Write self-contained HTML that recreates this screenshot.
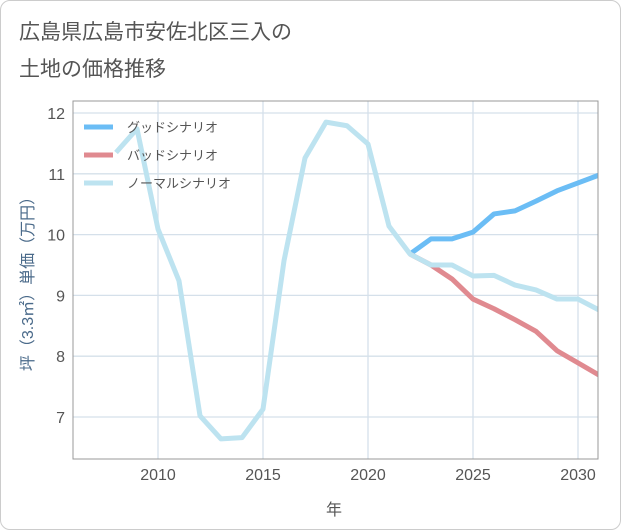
<!DOCTYPE html>
<html><head><meta charset="utf-8"><style>
body{margin:0;background:#fff;}
#card{position:absolute;left:0;top:0;width:619px;height:528px;border:1px solid #ccc;border-radius:10px;background:#fff;overflow:hidden}
.t{font-family:"Liberation Sans","Noto Sans CJK JP",sans-serif;}
</style></head><body>
<div id="card">
<svg width="621" height="530" xmlns="http://www.w3.org/2000/svg">
<text class="t" x="18" y="38" font-size="21" fill="#555">広島県広島市安佐北区三入の</text>
<text class="t" x="18" y="75" font-size="21" fill="#555">土地の価格推移</text>
<g id="grid"></g>
<defs><clipPath id="clip"><rect x="72" y="100" width="525" height="358"/></clipPath></defs>
<g id="lines" clip-path="url(#clip)"></g>
<rect x="72" y="100" width="525" height="358" fill="none" stroke="#999" stroke-width="1"/>
<g id="ticks"></g>
<text class="t" x="333" y="514" font-size="16" fill="#555" text-anchor="middle">年</text>
<text class="t" transform="translate(32,279) rotate(-90)" font-size="16" fill="#4a6a8a" text-anchor="middle">坪（3.3㎡）単価（万円）</text>
<g id="legend"></g>
</svg></div>
<script>
const years=[2008,2009,2010,2011,2012,2013,2014,2015,2016,2017,2018,2019,2020,2021,2022,2023,2024,2025,2026,2027,2028,2029,2030,2031];
const normal=[11.35,11.74,10.09,9.24,7.02,6.64,6.66,7.13,9.57,11.26,11.85,11.79,11.49,10.14,9.68,9.5,9.5,9.32,9.33,9.17,9.09,8.94,8.94,8.76];
const goodYears=[2022,2023,2024,2025,2026,2027,2028,2029,2030,2031];
const good=[9.68,9.93,9.93,10.04,10.34,10.39,10.55,10.72,10.85,10.98];
const bad=[9.68,9.5,9.27,8.94,8.78,8.6,8.41,8.09,7.89,7.69];
const xTicks=[2010,2015,2020,2025,2030];
const yTicks=[7,8,9,10,11,12];
const legendLabels=["グッドシナリオ","バッドシナリオ","ノーマルシナリオ"];
const colors=["#6bbdf5","#e08a90","#bde3f0"];
const NS="http://www.w3.org/2000/svg";
const X=y=>157+(y-2010)*21;
const Y=v=>416-(v-7)*60.8;
function mk(tag,attrs,parent){const e=document.createElementNS(NS,tag);for(const k in attrs)e.setAttribute(k,attrs[k]);document.getElementById(parent).appendChild(e);return e;}
for(let i=0;i<xTicks.length;i++){const x=X(xTicks[i]);
 const g=mk('line',{x1:x,x2:x,y1:100,y2:458,stroke:'#d5e0ea','stroke-width':1.3},'grid');
 
 const t=mk('text',{x:x,y:479,'font-size':16,fill:'#555','text-anchor':'middle',class:'t'},'ticks');t.textContent=xTicks[i];
 }
for(let i=0;i<yTicks.length;i++){const y=Y(yTicks[i]);
 const g=mk('line',{x1:72,x2:597,y1:y,y2:y,stroke:'#d5e0ea','stroke-width':1.3},'grid');
 
 const t=mk('text',{x:64,y:y+6,'font-size':16,fill:'#555','text-anchor':'end',class:'t'},'ticks');t.textContent=yTicks[i];
 }
function line(xs,vs,c,name){const p=mk('polyline',{points:xs.map((y,i)=>X(y)+','+Y(vs[i])).join(' '),fill:'none',stroke:c,'stroke-width':5,'stroke-linejoin':'round'},'lines');
 }
line(goodYears,good,colors[0],'good-scenario-line');
line(goodYears,bad,colors[1],'bad-scenario-line');
line(years,normal,colors[2],'normal-scenario-line');
for(let i=0;i<3;i++){const y=126+i*28;
 const l=mk('line',{x1:83,x2:112,y1:y,y2:y,stroke:colors[i],'stroke-width':5},'legend');
 
 const t=mk('text',{x:126,y:y+5,'font-size':13,fill:'#555',class:'t'},'legend');t.textContent=legendLabels[i];
 }
</script>
</body></html>
